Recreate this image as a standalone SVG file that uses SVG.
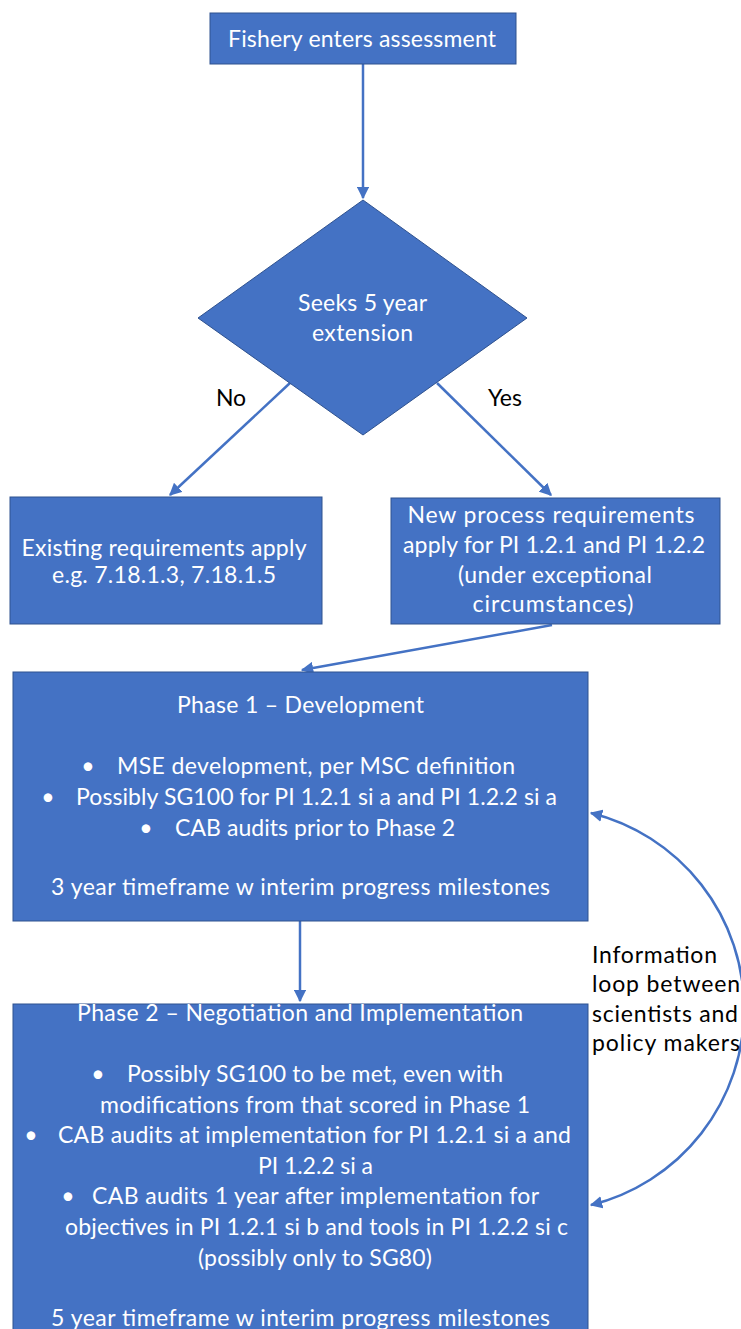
<svg xmlns="http://www.w3.org/2000/svg" width="741" height="1329" viewBox="0 0 741 1329">
<defs>
<style>
.box{fill:#4472C4;stroke:#2F528F;stroke-width:1}
.t{font-family:Lato,"Open Sans","Liberation Sans",sans-serif;font-size:23px;fill:#FFFFFF;text-anchor:middle}
.lbl{font-family:Lato,"Open Sans","Liberation Sans",sans-serif;font-size:23px;fill:#000000}
.c{fill:none;stroke:#4472C4;stroke-width:2.5}
</style>
<marker id="ah" viewBox="0 0 10 10" refX="9" refY="5" markerWidth="5" markerHeight="5" orient="auto-start-reverse" markerUnits="strokeWidth">
<path d="M0,0 L10,5 L0,10 z" fill="#4472C4"/>
</marker>
</defs>
<rect width="741" height="1329" fill="#FFFFFF"/>
<g id="connectors">
<line class="c" x1="363" y1="64" x2="363" y2="198" marker-end="url(#ah)"/>
<line class="c" x1="290" y1="383" x2="170" y2="495" marker-end="url(#ah)"/>
<line class="c" x1="437" y1="383" x2="551" y2="495" marker-end="url(#ah)"/>
<line class="c" x1="552" y1="625" x2="302" y2="670" marker-end="url(#ah)"/>
<line class="c" x1="300" y1="921" x2="300" y2="1001" marker-end="url(#ah)"/>
<path class="c" d="M591 813 A202 202 0 0 1 591 1205" marker-start="url(#ah)" marker-end="url(#ah)"/>
</g>
<g id="start">
<rect class="box" x="210" y="13" width="306" height="51"/>
<text class="t" x="362" y="47" textLength="268" lengthAdjust="spacing">Fishery enters assessment</text>
</g>
<g id="decision">
<polygon class="box" points="363,200 527,318 363,435 198,318"/>
<text class="t" x="362.5" y="311" textLength="129" lengthAdjust="spacing">Seeks 5 year</text>
<text class="t" x="362.5" y="341" textLength="101" lengthAdjust="spacing">extension</text>
</g>
<g id="label-no"><text class="lbl" x="231" y="406" text-anchor="middle">No</text></g>
<g id="label-yes"><text class="lbl" x="505" y="406" text-anchor="middle">Yes</text></g>
<g id="existing">
<rect class="box" x="10" y="497" width="312" height="127"/>
<text class="t" x="164" y="556" textLength="285" lengthAdjust="spacing">Existing requirements apply</text>
<text class="t" x="164" y="583" textLength="224" lengthAdjust="spacing">e.g. 7.18.1.3, 7.18.1.5</text>
</g>
<g id="newprocess">
<rect class="box" x="391" y="498" width="329" height="126"/>
<text class="t" x="551" y="523" textLength="287" lengthAdjust="spacing">New process requirements</text>
<text class="t" x="554" y="553" textLength="302" lengthAdjust="spacing">apply for PI 1.2.1 and PI 1.2.2</text>
<text class="t" x="555" y="583" textLength="194" lengthAdjust="spacing">(under exceptional</text>
<text class="t" x="553" y="612" textLength="161" lengthAdjust="spacing">circumstances)</text>
</g>
<g id="phase1">
<rect class="box" x="13" y="672" width="575" height="249"/>
<text class="t" x="300.5" y="713" textLength="247" lengthAdjust="spacing">Phase 1 – Development</text>
<text class="t" x="88" y="774">•</text>
<text class="t" x="316" y="774" textLength="398" lengthAdjust="spacing">MSE development, per MSC definition</text>
<text class="t" x="48" y="805">•</text>
<text class="t" x="316.5" y="805" textLength="481" lengthAdjust="spacing">Possibly SG100 for PI 1.2.1 si a and PI 1.2.2 si a</text>
<text class="t" x="146" y="836">•</text>
<text class="t" x="315" y="836" textLength="280" lengthAdjust="spacing">CAB audits prior to Phase 2</text>
<text class="t" x="300.5" y="895" textLength="499" lengthAdjust="spacing">3 year timeframe w interim progress milestones</text>
</g>
<g id="phase2">
<rect class="box" x="13" y="1004" width="575" height="330"/>
<text class="t" x="300" y="1021" textLength="446" lengthAdjust="spacing">Phase 2 – Negotiation and Implementation</text>
<text class="t" x="98" y="1082">•</text>
<text class="t" x="315" y="1082" textLength="376" lengthAdjust="spacing">Possibly SG100 to be met, even with</text>
<text class="t" x="315" y="1113" textLength="430" lengthAdjust="spacing">modifications from that scored in Phase 1</text>
<text class="t" x="31" y="1143">•</text>
<text class="t" x="314.5" y="1143" textLength="513" lengthAdjust="spacing">CAB audits at implementation for PI 1.2.1 si a and</text>
<text class="t" x="315.5" y="1174" textLength="115" lengthAdjust="spacing">PI 1.2.2 si a</text>
<text class="t" x="68" y="1204">•</text>
<text class="t" x="315.5" y="1204" textLength="447" lengthAdjust="spacing">CAB audits 1 year after implementation for</text>
<text class="t" x="316.5" y="1235" textLength="503" lengthAdjust="spacing">objectives in PI 1.2.1 si b and tools in PI 1.2.2 si c</text>
<text class="t" x="315" y="1266" textLength="234" lengthAdjust="spacing">(possibly only to SG80)</text>
<text class="t" x="300.5" y="1326" textLength="499" lengthAdjust="spacing">5 year timeframe w interim progress milestones</text>
</g>
<g id="loop-label">
<text class="lbl" x="592" y="963" textLength="125" lengthAdjust="spacing">Information</text>
<text class="lbl" x="592" y="992" textLength="148" lengthAdjust="spacing">loop between</text>
<text class="lbl" x="592" y="1022" textLength="146" lengthAdjust="spacing">scientists and</text>
<text class="lbl" x="592" y="1051" textLength="148" lengthAdjust="spacing">policy makers</text>
</g>
</svg>
